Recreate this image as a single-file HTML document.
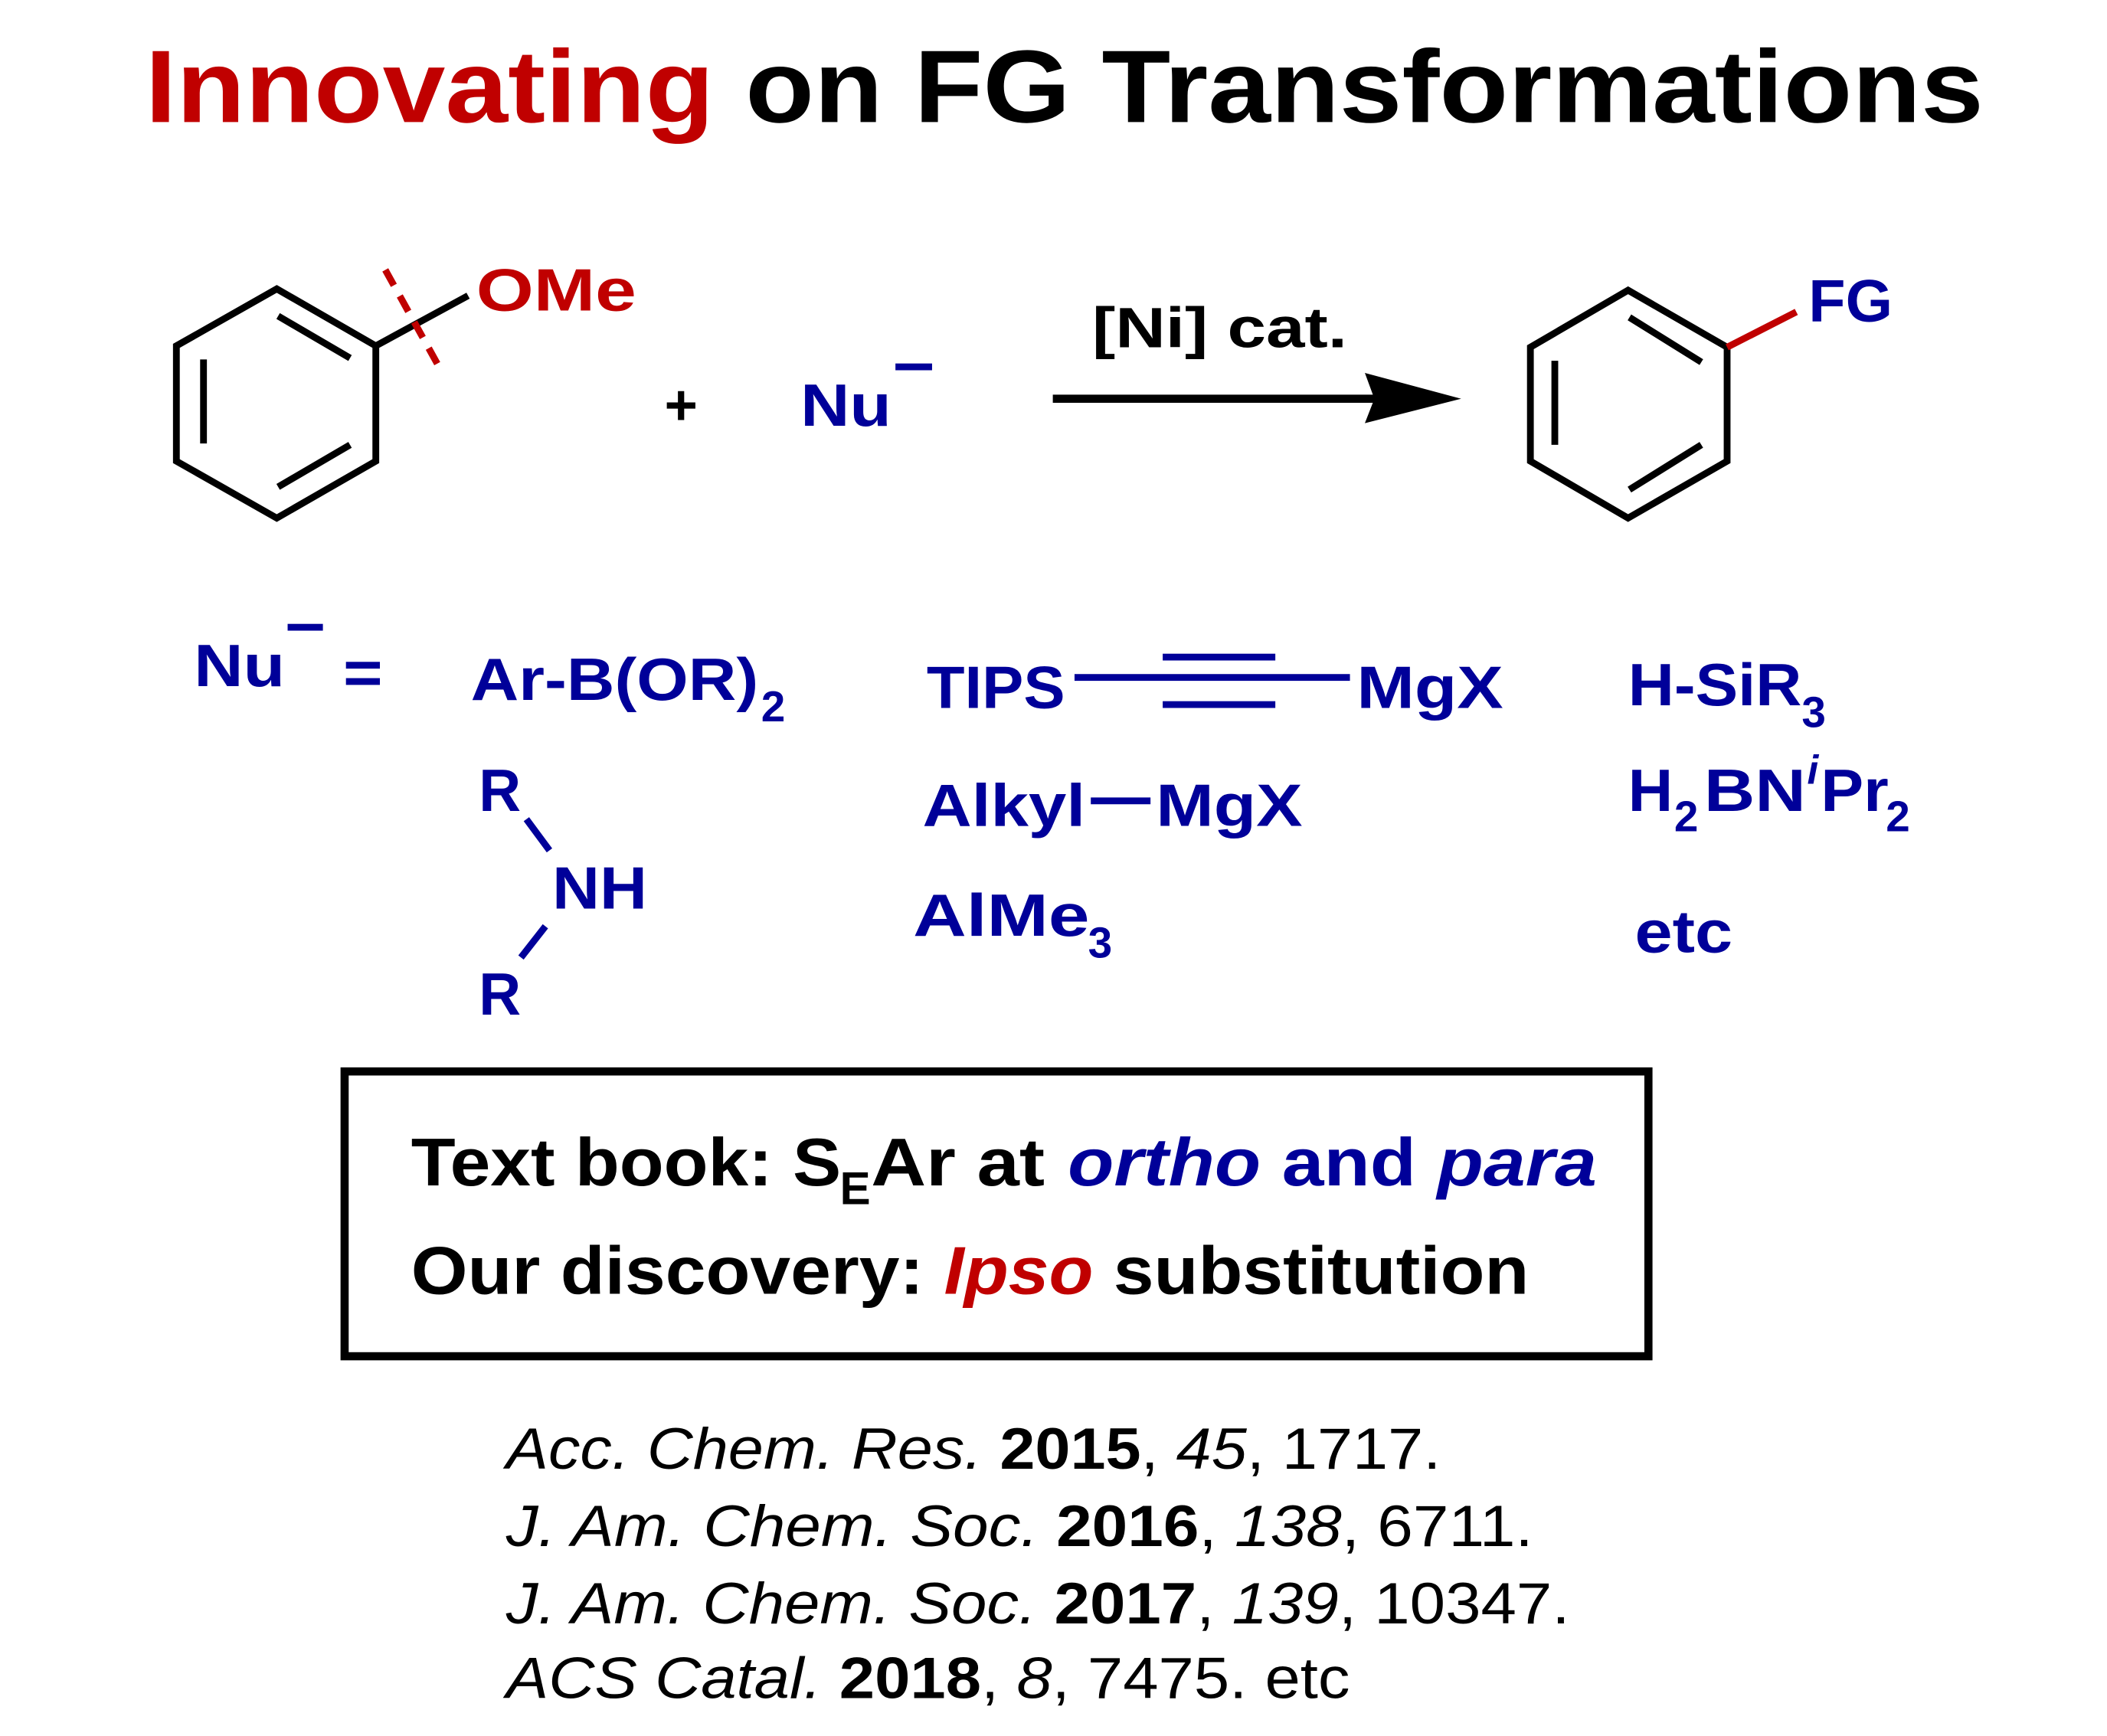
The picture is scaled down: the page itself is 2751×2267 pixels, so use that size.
<!DOCTYPE html>
<html><head><meta charset="utf-8">
<style>
html,body{margin:0;padding:0;background:#fff;}
svg{display:block;}
text{font-family:"Liberation Sans",Arial,sans-serif;}
</style></head>
<body>
<svg width="2751" height="2267" viewBox="0 0 1553 1280" preserveAspectRatio="none" xmlns="http://www.w3.org/2000/svg">
<rect width="1553" height="1280" fill="#fff"/>
<text x="107" y="90" font-size="76" font-weight="bold" textLength="1355" lengthAdjust="spacingAndGlyphs"><tspan fill="#c00000">Innovating</tspan><tspan fill="#000"> on FG Transformations</tspan></text>

<g stroke="#000" stroke-width="5" fill="none" stroke-linejoin="miter">
<polygon points="204,213 277,255 277,340 204,382 130,340 130,255"/>
<line x1="205" y1="233" x2="258" y2="264"/>
<line x1="150" y1="265" x2="150" y2="327"/>
<line x1="205" y1="359" x2="258" y2="328"/>
<line x1="277" y1="255" x2="345" y2="218"/>
</g>
<line x1="284" y1="199" x2="325" y2="273" stroke="#c00000" stroke-width="5" stroke-dasharray="13,9"/>
<text x="351" y="229" font-size="44" font-weight="bold" fill="#c00000" textLength="118" lengthAdjust="spacingAndGlyphs">OMe</text>

<text x="502" y="313" font-size="42" font-weight="bold" text-anchor="middle" fill="#000">+</text>
<text x="590" y="314" font-size="44" font-weight="bold" fill="#000099" textLength="67" lengthAdjust="spacingAndGlyphs">Nu</text>
<rect x="660" y="268" width="27" height="5" fill="#000099"/>

<text x="805" y="256" font-size="42" font-weight="bold" fill="#000" textLength="188" lengthAdjust="spacingAndGlyphs">[Ni] cat.</text>
<line x1="776" y1="294" x2="1020" y2="294" stroke="#000" stroke-width="6"/>
<polygon points="1006,275 1077,294 1006,312 1013,294" fill="#000"/>

<g stroke="#000" stroke-width="5" fill="none">
<polygon points="1200,214 1273,256 1273,340 1200,382 1128,340 1128,256"/>
<line x1="1201" y1="234" x2="1254" y2="267"/>
<line x1="1146" y1="266" x2="1146" y2="328"/>
<line x1="1201" y1="361" x2="1254" y2="328"/>
</g>
<line x1="1273" y1="256" x2="1324" y2="230" stroke="#c00000" stroke-width="5"/>
<text x="1333" y="237" font-size="44" font-weight="bold" fill="#000099" textLength="62" lengthAdjust="spacingAndGlyphs">FG</text>

<g fill="#000099" font-weight="bold" font-size="44">
<text x="143" y="506" textLength="67" lengthAdjust="spacingAndGlyphs">Nu</text>
<rect x="212" y="460" width="26" height="5"/>
<rect x="255" y="488" width="25" height="5"/>
<rect x="255" y="500" width="25" height="5"/>
<text x="347" y="516" textLength="212" lengthAdjust="spacingAndGlyphs">Ar-B(OR)</text>
<text x="561" y="532" font-size="32">2</text>

<text x="683" y="522" textLength="102" lengthAdjust="spacingAndGlyphs">TIPS</text>
<rect x="792" y="497" width="203" height="5"/>
<rect x="857" y="482" width="83" height="5"/>
<rect x="857" y="517" width="83" height="5"/>
<text x="1000" y="522" textLength="108" lengthAdjust="spacingAndGlyphs">MgX</text>

<text x="1200" y="520" textLength="128" lengthAdjust="spacingAndGlyphs">H-SiR</text>
<text x="1328" y="536" font-size="32">3</text>

<text x="353" y="598" textLength="31" lengthAdjust="spacingAndGlyphs">R</text>
<line x1="388" y1="604" x2="405" y2="627" stroke="#000099" stroke-width="5"/>
<text x="407" y="670" textLength="70" lengthAdjust="spacingAndGlyphs">NH</text>
<line x1="402" y1="683" x2="384" y2="706" stroke="#000099" stroke-width="5"/>
<text x="353" y="748" textLength="31" lengthAdjust="spacingAndGlyphs">R</text>

<text x="680" y="609" textLength="120" lengthAdjust="spacingAndGlyphs">Alkyl</text>
<rect x="804" y="588" width="44" height="5"/>
<text x="852" y="609" textLength="108" lengthAdjust="spacingAndGlyphs">MgX</text>

<text x="1200" y="598" textLength="33" lengthAdjust="spacingAndGlyphs">H</text>
<text x="1234" y="613" font-size="32">2</text>
<text x="1256" y="598" textLength="75" lengthAdjust="spacingAndGlyphs">BN</text>
<text x="1332" y="578" font-size="30" font-style="italic">i</text>
<text x="1342" y="598" textLength="50" lengthAdjust="spacingAndGlyphs">Pr</text>
<text x="1390" y="613" font-size="32">2</text>

<text x="673" y="690" textLength="130" lengthAdjust="spacingAndGlyphs">AlMe</text>
<text x="802" y="706" font-size="32">3</text>

<text x="1205" y="702" textLength="72" lengthAdjust="spacingAndGlyphs">etc</text>
</g>

<rect x="254" y="790" width="961" height="210" fill="none" stroke="#000" stroke-width="6"/>
<g font-weight="bold" font-size="50">
<text x="303" y="874" fill="#000" textLength="317" lengthAdjust="spacingAndGlyphs">Text book: S</text>
<text x="619" y="888" font-size="34" fill="#000">E</text>
<text x="642" y="874" fill="#000" textLength="128" lengthAdjust="spacingAndGlyphs">Ar at</text>
<text x="787" y="874" fill="#000099" textLength="390" lengthAdjust="spacingAndGlyphs"><tspan font-style="italic">ortho</tspan> and <tspan font-style="italic">para</tspan></text>
<text x="303" y="954" textLength="824" lengthAdjust="spacingAndGlyphs"><tspan fill="#000">Our discovery: </tspan><tspan fill="#c00000" font-style="italic">Ipso</tspan><tspan fill="#000"> substitution</tspan></text>
</g>

<g font-size="43" fill="#000">
<text x="373" y="1083" textLength="689" lengthAdjust="spacingAndGlyphs"><tspan font-style="italic">Acc. Chem. Res.</tspan> <tspan font-weight="bold">2015</tspan>, <tspan font-style="italic">45</tspan>, 1717.</text>
<text x="373" y="1140" textLength="757" lengthAdjust="spacingAndGlyphs"><tspan font-style="italic">J. Am. Chem. Soc.</tspan> <tspan font-weight="bold">2016</tspan>, <tspan font-style="italic">138</tspan>, 6711.</text>
<text x="373" y="1197" textLength="784" lengthAdjust="spacingAndGlyphs"><tspan font-style="italic">J. Am. Chem. Soc.</tspan> <tspan font-weight="bold">2017</tspan>, <tspan font-style="italic">139</tspan>, 10347.</text>
<text x="373" y="1252" textLength="622" lengthAdjust="spacingAndGlyphs"><tspan font-style="italic">ACS Catal.</tspan> <tspan font-weight="bold">2018</tspan>, <tspan font-style="italic">8</tspan>, 7475. etc</text>
</g>
</svg>
</body></html>
